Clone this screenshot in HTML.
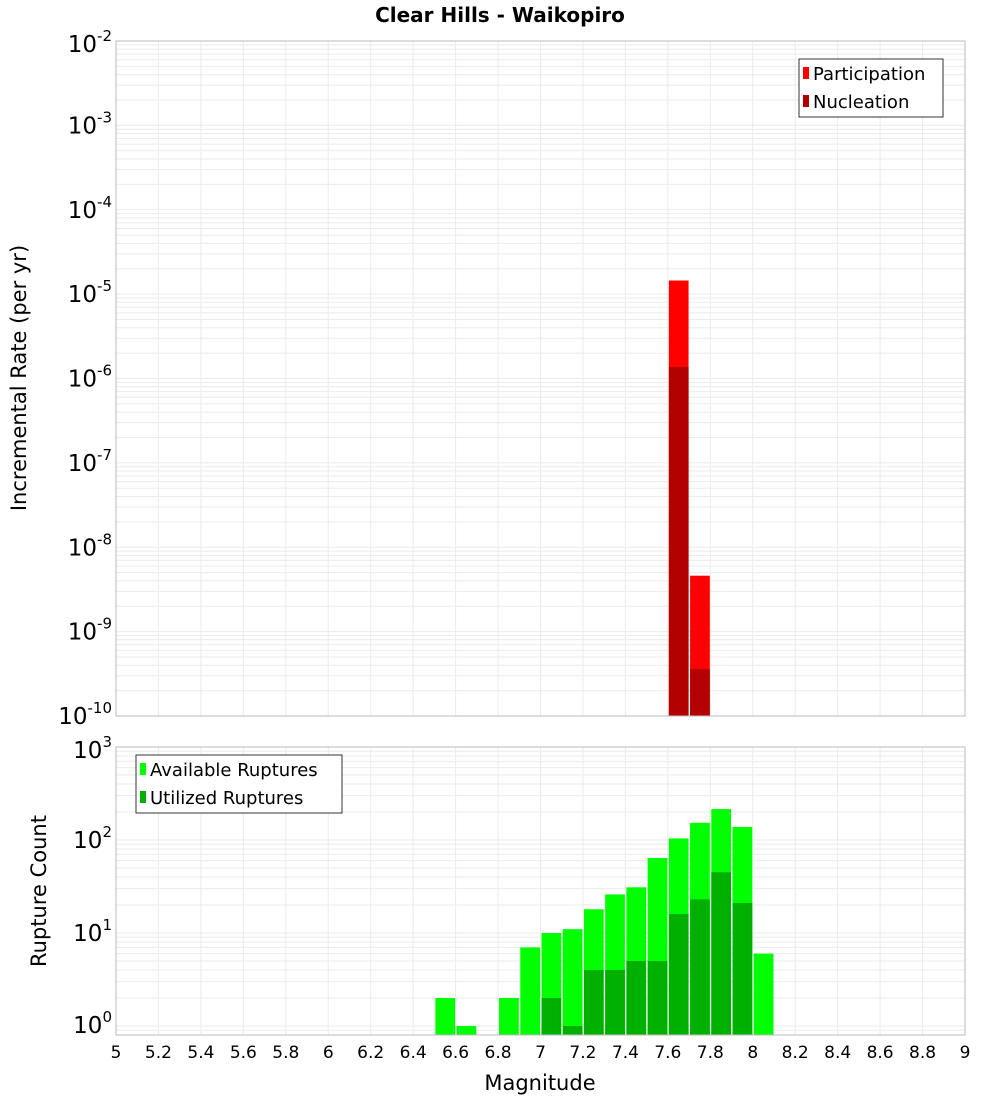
<!DOCTYPE html>
<html><head><meta charset="utf-8"><style>
body{margin:0;background:#fff;}
svg{display:block;font-family:"DejaVu Sans","Liberation Sans",sans-serif;}
</style></head><body>
<svg id="chart" width="1000" height="1100">
<text x="500" y="22" text-anchor="middle" font-size="20" font-weight="bold">Clear Hills - Waikopiro</text>
<g id="grid"></g>
<g id="bars"></g>
<g id="axes"></g>
<g>
<rect x="799" y="59" width="144" height="58" fill="#fff" stroke="#333"/>
<rect x="803" y="67" width="6" height="12" fill="#ff0000"/>
<text x="813" y="80" font-size="18">Participation</text>
<rect x="803" y="95" width="6" height="12" fill="#b30000"/>
<text x="813" y="108" font-size="18">Nucleation</text>
</g>
<g>
<rect x="136" y="755" width="206" height="58" fill="#fff" stroke="#333"/>
<rect x="140" y="763" width="6" height="12" fill="#00ff00"/>
<text x="150" y="776" font-size="18">Available Ruptures</text>
<rect x="140" y="791" width="6" height="12" fill="#00b000"/>
<text x="150" y="804" font-size="18">Utilized Ruptures</text>
</g>
<text x="540" y="1090" text-anchor="middle" font-size="21">Magnitude</text>
<text transform="translate(26,378) rotate(-90)" text-anchor="middle" font-size="21">Incremental Rate (per yr)</text>
<text transform="translate(46,891) rotate(-90)" text-anchor="middle" font-size="21">Rupture Count</text>
</svg>
<script>
const magBins=[7.65,7.75];
const participation=[1.45e-5,4.6e-9];
const nucleation=[1.37e-6,3.6e-10];
const countBins=[6.55,6.65,6.85,6.95,7.05,7.15,7.25,7.35,7.45,7.55,7.65,7.75,7.85,7.95,8.05];
const available=[2,1,2,7,10,11,18,26,31,64,104,153,215,138,6];
const utilized=[0,0,0,0,2,1,4,4,5,5,16,23,45,21,0];
const xTicks=["5","5.2","5.4","5.6","5.8","6","6.2","6.4","6.6","6.8","7","7.2","7.4","7.6","7.8","8","8.2","8.4","8.6","8.8","9"];
const topExps=[-2,-3,-4,-5,-6,-7,-8,-9,-10];
const botExps=[3,2,1,0];

const NS="http://www.w3.org/2000/svg";
const X0=116,X1=965;
const xs=m=>X0+(m-5)/4*(X1-X0);
const T0=41,T1=716;
const yTop=v=>T0+(-2-Math.log10(v))/8*(T1-T0);
const B0=747,B1=1035,BPD=93;
const yBot=v=>B0+(3-Math.log10(v))*BPD;
function mk(tag,a,p){const e=document.createElementNS(NS,tag);for(const k in a)e.setAttribute(k,a[k]);p.appendChild(e);return e;}
const grid=document.getElementById('grid'),bars=document.getElementById('bars'),axes=document.getElementById('axes');
for(let i=0;i<=20;i++){const x=xs(5+i*0.2);
 mk('line',{x1:x,x2:x,y1:T0,y2:T1,stroke:'#ebebeb'},grid);
 mk('line',{x1:x,x2:x,y1:B0,y2:B1,stroke:'#ebebeb'},grid);}
for(let d=-10;d<-2;d++)for(let k=1;k<10;k++){const y=yTop(k*Math.pow(10,d));
 mk('line',{x1:X0,x2:X1,y1:y,y2:y,stroke:'#ebebeb'},grid);}
for(let d=-1;d<3;d++)for(let k=1;k<10;k++){const y=yBot(k*Math.pow(10,d));if(y>B1||y<B0)continue;
 mk('line',{x1:X0,x2:X1,y1:y,y2:y,stroke:'#ebebeb'},grid);}
magBins.forEach((m,i)=>{const xl=xs(m-0.05)+1,w=xs(m+0.05)-xs(m-0.05)-1.5;
 let y=yTop(participation[i]);let r=mk('rect',{x:xl,y:y,width:w,height:T1-y,fill:'#ff0000'},bars);
 
 
 y=yTop(nucleation[i]);r=mk('rect',{x:xl,y:y,width:w,height:T1-y,fill:'#b30000'},bars);
 
 });
countBins.forEach((m,i)=>{const xl=xs(m-0.05)+1,w=xs(m+0.05)-xs(m-0.05)-1.5;
 if(available[i]>0){const y=yBot(available[i]);const r=mk('rect',{x:xl,y:y,width:w,height:B1-y,fill:'#00ff00'},bars);
 
 }
 if(utilized[i]>0){const y=yBot(utilized[i]);const r=mk('rect',{x:xl,y:y,width:w,height:B1-y,fill:'#00b000'},bars);
 
 }});
mk('rect',{x:X0,y:T0,width:X1-X0,height:T1-T0,fill:'none',stroke:'#bbb'},axes);
mk('rect',{x:X0,y:B0,width:X1-X0,height:B1-B0,fill:'none',stroke:'#bbb'},axes);
xTicks.forEach(t=>{const x=xs(parseFloat(t));const e=mk('text',{x:x,y:1058,'text-anchor':'middle','font-size':17},axes);e.textContent=t;
 
 });
function pow(y,ex,p){const e=mk('text',{x:112,y:y,'text-anchor':'end','font-size':23},p);
 const a=document.createElementNS(NS,'tspan');a.textContent='10';e.appendChild(a);
 const b=document.createElementNS(NS,'tspan');b.setAttribute('dy','-11');b.setAttribute('font-size','15');b.textContent=ex;e.appendChild(b);
 
 }
topExps.forEach(d=>{let y=yTop(Math.pow(10,d))+8;if(d===-2)y=T0+11;if(d===-10)y=T1+8;pow(y,d,axes);});
botExps.forEach(d=>{let y=yBot(Math.pow(10,d))+8;if(d===3)y=B0+11;if(d===0)y=B1-2;pow(y,d,axes);});
</script>
</body></html>
